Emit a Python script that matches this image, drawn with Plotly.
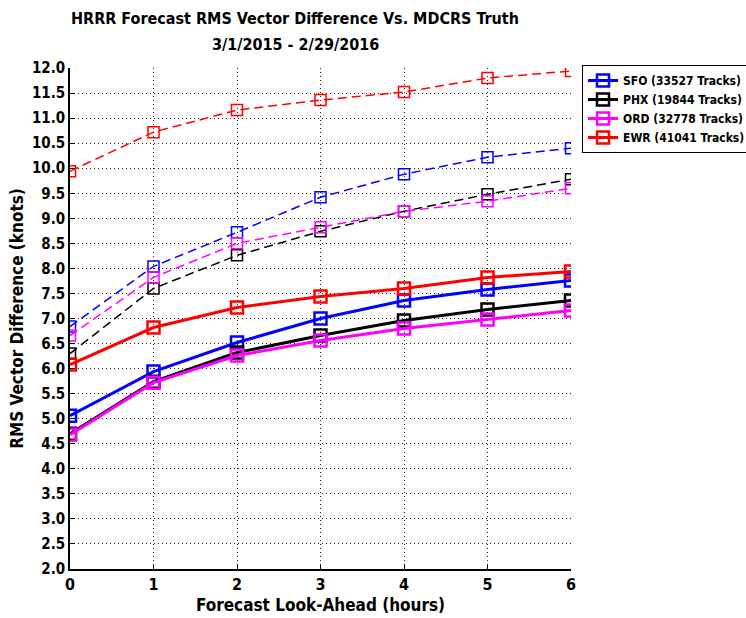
import plotly.graph_objects as go

hours = [0, 1, 2, 3, 4, 5, 6]
stations = ["SFO", "PHX", "ORD", "EWR"]
tracks = [33527, 19844, 32778, 41041]
colors = ["#0000FF", "#000000", "#FF00FF", "#FF0000"]

# solid-line series
solid = {
    "SFO": [5.06, 5.94, 6.52, 7.00, 7.36, 7.58, 7.76],
    "PHX": [4.70, 5.74, 6.32, 6.66, 6.96, 7.18, 7.36],
    "ORD": [4.68, 5.72, 6.26, 6.56, 6.80, 6.98, 7.16],
    "EWR": [6.08, 6.82, 7.22, 7.44, 7.60, 7.82, 7.94],
}
# dashed-line series
dashed = {
    "SFO": [6.84, 8.04, 8.72, 9.42, 9.88, 10.22, 10.40],
    "PHX": [6.30, 7.60, 8.26, 8.74, 9.14, 9.48, 9.78],
    "ORD": [6.66, 7.82, 8.50, 8.82, 9.14, 9.34, 9.60],
    "EWR": [9.94, 10.72, 11.16, 11.36, 11.52, 11.80, 11.94],
}

yticks = [2.0 + 0.5 * i for i in range(21)]
ytick_text = ["%.1f" % v for v in yticks]

FONT = "Liberation Sans Narrow, DejaVu Sans Condensed, Arial Narrow, sans-serif"

W, H = 746, 618
L, R, T, B = 70, 0, 68, 49
PW = W - L - R           # paper width in px
PLOT_W = 501             # plotting region width in px
dom = PLOT_W / PW

fig = go.Figure()
for s, c in zip(stations, colors):
    fig.add_trace(go.Scatter(
        x=hours, y=dashed[s], mode="lines+markers", showlegend=False,
        line=dict(color=c, width=1.5, dash="9px,5px"),
        marker=dict(symbol="square-open", size=11, color=c, line=dict(width=1.5, color=c)),
    ))
for s, c, t in zip(stations, colors, tracks):
    fig.add_trace(go.Scatter(
        x=hours, y=solid[s], mode="lines+markers", name=f"<b>{s} ({t} Tracks)</b>",
        line=dict(color=c, width=3),
        marker=dict(symbol="square-open", size=12, color=c, line=dict(width=2.5, color=c)),
    ))

def px_x(p):
    return (p - L) / PW

fig.add_annotation(text="<b>HRRR Forecast RMS Vector Difference Vs. MDCRS Truth</b>",
                   xref="paper", yref="paper", x=px_x(295), y=(H - B - 18) / (H - T - B),
                   showarrow=False, xanchor="center", yanchor="middle",
                   font=dict(size=16, family=FONT))
fig.add_annotation(text="<b>3/1/2015 - 2/29/2016</b>",
                   xref="paper", yref="paper", x=px_x(295), y=(H - B - 44) / (H - T - B),
                   showarrow=False, xanchor="center", yanchor="middle",
                   font=dict(size=16, family=FONT))

fig.update_layout(
    width=W, height=H,
    margin=dict(l=L, r=R, t=T, b=B, autoexpand=False),
    paper_bgcolor="white", plot_bgcolor="white",
    font=dict(family=FONT, color="black"),
    legend=dict(
        x=px_x(582), y=(H - B - 65) / (H - T - B), xanchor="left", yanchor="top",
        bordercolor="black", borderwidth=1, bgcolor="white",
        font=dict(size=12, family=FONT),
        tracegroupgap=0, itemwidth=30,
    ),
    xaxis=dict(
        domain=[0, dom],
        range=[0, 6], tickvals=hours, ticktext=[f"<b>{h}</b>" for h in hours],
        showgrid=True, gridcolor="#222222", griddash="1px,3px", gridwidth=1,
        showline=True, linecolor="black", linewidth=1.5, mirror=False,
        ticks="inside", ticklen=5, tickcolor="black",
        tickfont=dict(size=16, family=FONT), zeroline=False,
        title=dict(text="<b>Forecast Look-Ahead (hours)</b>", font=dict(size=17, family=FONT), standoff=6),
    ),
    yaxis=dict(
        range=[2, 12], tickvals=yticks, ticktext=[f"<b>{t}</b>" for t in ytick_text],
        showgrid=True, gridcolor="#222222", griddash="1px,3px", gridwidth=1,
        showline=True, linecolor="black", linewidth=1.5, mirror=False,
        ticks="inside", ticklen=5, tickcolor="black",
        tickfont=dict(size=15, family=FONT), zeroline=False,
        title=dict(text="<b>RMS Vector Difference (knots)</b>", font=dict(size=17, family=FONT), standoff=4),
    ),
)

fig.write_html("out.html")
